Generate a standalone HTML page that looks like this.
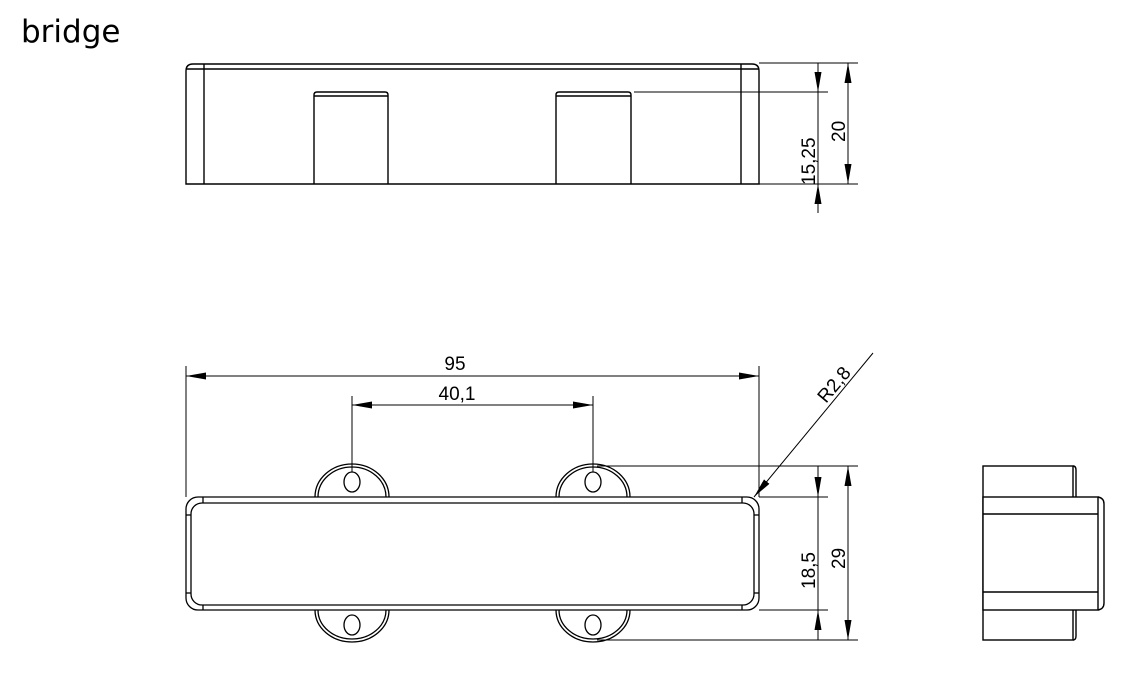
<!DOCTYPE html>
<html><head><meta charset="utf-8"><style>
html,body{margin:0;padding:0;background:#fff;}
svg{display:block;}
text{font-family:"Liberation Sans",Arial,sans-serif;fill:#000;}
</style></head><body>
<svg width="1129" height="683" viewBox="0 0 1129 683" xmlns="http://www.w3.org/2000/svg">
<defs>
<marker id="a" viewBox="0 0 10 10" refX="10" refY="5" markerWidth="20" markerHeight="7" markerUnits="userSpaceOnUse" orient="auto-start-reverse" preserveAspectRatio="none"><path d="M0,0L10,5L0,10z" fill="#000"/></marker>
</defs>
<text x="21" y="42" font-size="31" style="font-family:'DejaVu Sans','Liberation Sans',sans-serif">bridge</text>
<g fill="none" stroke="#000" stroke-width="1.4">
<path d="M186,184 V71 Q186,64 193,64 H752 Q759,64 759,71 V184 Z"/>
<line x1="186" y1="69" x2="759" y2="69"/>
<line x1="204" y1="64" x2="204" y2="184"/>
<line x1="741" y1="64" x2="741" y2="184"/>
<path d="M314,184 V95 Q314,92 317,92 H385 Q388,92 388,95 V184"/>
<line x1="314" y1="96" x2="388" y2="96"/>
<path d="M556,184 V95 Q556,92 559,92 H628 Q631,92 631,95 V184"/>
<line x1="556" y1="96" x2="631" y2="96"/>
</g>
<g fill="none" stroke="#000" stroke-width="1">
<line x1="634" y1="92" x2="828" y2="92"/>
<line x1="759" y1="63" x2="858" y2="63"/>
<line x1="759" y1="184" x2="858" y2="184"/>
<line x1="818" y1="63" x2="818" y2="213"/>
<line x1="818" y1="63" x2="818" y2="92" marker-end="url(#a)"/>
<line x1="818" y1="213" x2="818" y2="184" marker-end="url(#a)"/>
<line x1="848" y1="63" x2="848" y2="184" marker-start="url(#a)" marker-end="url(#a)"/>
</g>
<text transform="translate(815,185) rotate(-90)" font-size="19">15,25</text>
<text transform="translate(845,142) rotate(-90)" font-size="19">20</text>

<g fill="none" stroke="#000" stroke-width="1.3">
<path d="M315,497 A37,33 0 0 1 389,497"/>
<path d="M318,497 A34,30 0 0 1 386,497"/>
<path d="M556,497 A37,33 0 0 1 630,497"/>
<path d="M559,497 A34,30 0 0 1 627,497"/>
<path d="M315,610 A37,32 0 0 0 389,610"/>
<path d="M318,610 A34,29 0 0 0 386,610"/>
<path d="M556,610 A37,32 0 0 0 630,610"/>
<path d="M559,610 A34,29 0 0 0 627,610"/>
<ellipse cx="352" cy="482" rx="8" ry="10"/>
<ellipse cx="593" cy="482" rx="8" ry="10"/>
<ellipse cx="352" cy="625" rx="8" ry="10"/>
<ellipse cx="593" cy="625" rx="8" ry="10"/>
<rect x="186" y="497" width="573" height="113" rx="12" fill="#fff"/>
<rect x="191" y="503" width="563" height="102" rx="11"/>
<line x1="203" y1="497" x2="203" y2="503"/>
<line x1="742" y1="497" x2="742" y2="503"/>
<line x1="203" y1="605" x2="203" y2="610"/>
<line x1="742" y1="605" x2="742" y2="610"/>
<line x1="186" y1="515" x2="191" y2="515"/>
<line x1="186" y1="593" x2="191" y2="593"/>
<line x1="754" y1="515" x2="759" y2="515"/>
<line x1="754" y1="593" x2="759" y2="593"/>
</g>
<g fill="none" stroke="#000" stroke-width="1">
<line x1="186" y1="366" x2="186" y2="497"/>
<line x1="759" y1="366" x2="759" y2="497"/>
<line x1="186" y1="376" x2="759" y2="376" marker-start="url(#a)" marker-end="url(#a)"/>
<line x1="352" y1="396" x2="352" y2="472"/>
<line x1="593" y1="396" x2="593" y2="472"/>
<line x1="352" y1="405" x2="593" y2="405" marker-start="url(#a)" marker-end="url(#a)"/>
<line x1="873" y1="353" x2="754" y2="497" marker-end="url(#a)"/>
<line x1="597" y1="466" x2="858" y2="466"/>
<line x1="759" y1="497" x2="828" y2="497"/>
<line x1="759" y1="610" x2="828" y2="610"/>
<line x1="597" y1="640" x2="858" y2="640"/>
<line x1="818" y1="466" x2="818" y2="640"/>
<line x1="818" y1="466" x2="818" y2="497" marker-end="url(#a)"/>
<line x1="818" y1="640" x2="818" y2="610" marker-end="url(#a)"/>
<line x1="848" y1="466" x2="848" y2="640" marker-start="url(#a)" marker-end="url(#a)"/>
</g>
<text x="455" y="370" font-size="19" text-anchor="middle">95</text>
<text x="457" y="400" font-size="19" text-anchor="middle">40,1</text>
<text transform="translate(826,404) rotate(-50)" font-size="19">R2,8</text>
<text transform="translate(815,589) rotate(-90)" font-size="19">18,5</text>
<text transform="translate(845,569) rotate(-90)" font-size="19">29</text>

<g fill="none" stroke="#000" stroke-width="1.4">
<rect x="983" y="466" width="90" height="174"/>
<path d="M1073,466 Q1076,466 1076,470 V636 Q1076,640 1073,640"/>
<rect x="983" y="497" width="115" height="113" fill="#fff"/>
<path d="M1098,497 Q1104,498 1104,504 V603 Q1104,609 1098,610"/>
<line x1="983" y1="514" x2="1098" y2="514"/>
<line x1="983" y1="592" x2="1098" y2="592"/>
</g>
</svg>
</body></html>
